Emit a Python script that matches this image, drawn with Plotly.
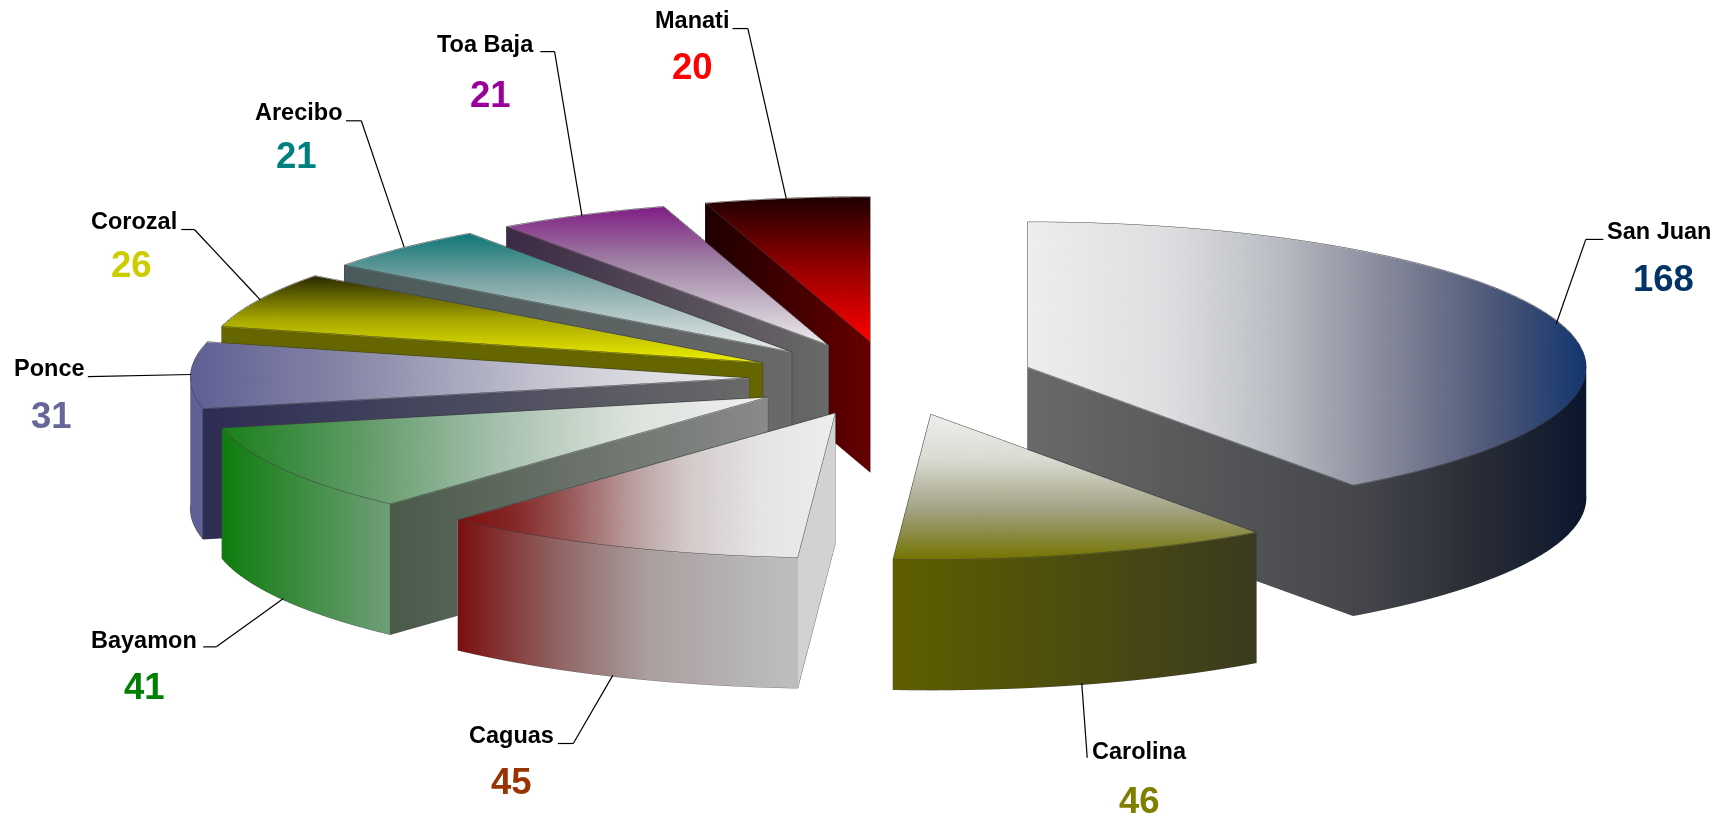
import numpy as np
import plotly.graph_objects as go

# ---- data ----
categories = ["San Juan", "Carolina", "Caguas", "Bayamon", "Ponce", "Corozal", "Arecibo", "Toa Baja", "Manati"]
values = [168, 46, 45, 41, 31, 26, 21, 21, 20]
value_colors = ["#003366", "#808000", "#993300", "#008000", "#666699", "#cccc00", "#008080", "#990099", "#ff0000"]

# gradient styles: (axis, stops) for the top face, and stops for the walls
top_axis = ["x", "y", "x", "x", "x", "y", "y", "y", "y"]
top_stops = [
    [(0, "#eeeeee"), (.25, "#dfdfe2"), (.45, "#b9bdc3"), (.65, "#858799"), (.85, "#485476"), (1, "#13366f")],
    [(0, "#eeeeee"), (.3, "#dcdcd4"), (.65, "#a3a385"), (1, "#747400")],
    [(0, "#7c1010"), (.15, "#842828"), (.3, "#9a5c5c"), (.45, "#b89a9a"), (.6, "#d2c8c8"), (.8, "#e6e4e4"), (1, "#eeeeee")],
    [(0, "#1a801a"), (.25, "#5f9a66"), (.5, "#a5c0ac"), (.75, "#dde3dd"), (1, "#f0f0f0")],
    [(0, "#5f5f95"), (.3, "#8a8aaa"), (.7, "#cfcfd9"), (1, "#eeeeee")],
    [(0, "#2a2a00"), (.5, "#a8a800"), (1, "#f0f000")],
    [(0, "#107878"), (.4, "#7ea5a5"), (1, "#ececec")],
    [(0, "#7f1f85"), (.4, "#a083a5"), (1, "#eeeeee")],
    [(0, "#200000"), (.5, "#990000"), (1, "#ff0000")],
]
outer_stops = [
    [(0, "#6a6a6a"), (.6, "#45474c"), (.8, "#2a2d36"), (1, "#0b172e")],
    [(0, "#5f5f00"), (1, "#3b3b20")],
    [(0, "#7b0f0f"), (.25, "#8f6060"), (.5, "#ab9f9f"), (.85, "#bcbcbc"), (1, "#bcbcbc")],
    [(0, "#0f7d0f"), (.3, "#6e9e76"), (1, "#6e9e76")],
    [(0, "#5f6095"), (1, "#5f6095")],
    [(0, "#666600"), (1, "#666600")],
    [(0, "#4a5a5a"), (1, "#6a6a6a")],
    [(0, "#3d2a45"), (1, "#6a6a6a")],
    [(0, "#1e0000"), (1, "#660000")],
]
side_stops = [
    [(0, "#6a6a6a"), (.6, "#45474c"), (.8, "#2a2d36"), (1, "#0b172e")],
    [(0, "#5f5f00"), (1, "#3b3b20")],
    [(0, "#d2d2d2"), (1, "#d2d2d2")],
    [(0, "#3e503e"), (.3, "#4a5a4a"), (1, "#8a8a8a")],
    [(0, "#2c2c55"), (1, "#6a6a6a")],
    [(0, "#666600"), (1, "#666600")],
    [(0, "#4a5a5a"), (1, "#6a6a6a")],
    [(0, "#3d2a45"), (1, "#6a6a6a")],
    [(0, "#1e0000"), (1, "#660000")],
]

# ---- geometry constants (pixel-like data units) ----
R = 560.0
H = 135.0
PULL = 143.0
ELEV = np.radians(15.07)
EYE_DIST = 12.0
ZOOM = 4.885
HALF = 1000.0
CX, CY, CZ = -30.7, 139.0, -68.0
LIFT = 0.6


def ramp(frac, stops):
    xs = [s[0] for s in stops]
    rgb = np.array([[int(s[1][i:i + 2], 16) for i in (1, 3, 5)] for s in stops], float)
    return np.stack([np.interp(frac, xs, rgb[:, c]) for c in range(3)], axis=-1)


def css(arr):
    return [f"rgb({int(r)},{int(g)},{int(b)})" for r, g, b in arr]


def grid_faces(nu, nv, base):
    i, j, k = [], [], []
    for a in range(nu - 1):
        for b in range(nv - 1):
            p = base + a * nv + b
            i += [p, p]
            j += [p + 1, p + nv + 1]
            k += [p + nv + 1, p + nv]
    return i, j, k


fig = go.Figure()
shares = np.array(values, float) / sum(values) * 2 * np.pi
ends = np.cumsum(shares)
starts = ends - shares
NT, NR, NZ = 70, 30, 2

for n in range(len(values)):
    a, b = starts[n], ends[n]
    mid = (a + b) / 2
    ox, oy = PULL * np.sin(mid), PULL * np.cos(mid)
    th = np.linspace(a, b, NT)
    rr = np.linspace(0, R, NR)
    T, RR = np.meshgrid(th, rr, indexing="ij")
    tx = (ox + RR * np.sin(T)).ravel()
    ty = (oy + RR * np.cos(T)).ravel()
    x0, x1, y0, y1 = tx.min(), tx.max(), ty.min(), ty.max()
    fx = lambda v: (v - x0) / (x1 - x0)
    if top_axis[n] == "x":
        col = ramp(fx(tx), top_stops[n])
    else:
        col = ramp((y1 - ty) / (y1 - y0), top_stops[n])
    X, Y, Z, C, I, J, K = [tx], [ty], [np.zeros_like(tx)], [col], [], [], []
    base = 0
    f = grid_faces(NT, NR, base)
    I += f[0]; J += f[1]; K += f[2]
    base += tx.size
    # outer wall
    zz = np.array([0.0, -H])
    T2, Z2 = np.meshgrid(th, zz, indexing="ij")
    wx = (ox + R * np.sin(T2)).ravel()
    wy = (oy + R * np.cos(T2)).ravel()
    X.append(wx); Y.append(wy); Z.append(Z2.ravel()); C.append(ramp(fx(wx), outer_stops[n]))
    f = grid_faces(NT, NZ, base)
    I += f[0]; J += f[1]; K += f[2]
    base += wx.size
    # radial walls
    for ang in (a, b):
        R2, Z3 = np.meshgrid(rr, zz, indexing="ij")
        sx = (ox + R2 * np.sin(ang)).ravel()
        sy = (oy + R2 * np.cos(ang)).ravel()
        X.append(sx); Y.append(sy); Z.append(Z3.ravel()); C.append(ramp(fx(sx), side_stops[n]))
        f = grid_faces(NR, NZ, base)
        I += f[0]; J += f[1]; K += f[2]
        base += sx.size
    fig.add_trace(go.Mesh3d(
        x=np.concatenate(X), y=np.concatenate(Y), z=np.concatenate(Z),
        i=I, j=J, k=K, vertexcolor=css(np.concatenate(C)), flatshading=True,
        lighting=dict(ambient=1, diffuse=0, specular=0, roughness=1, fresnel=0),
        hoverinfo="skip", name=categories[n], showscale=False))
    # edges
    ex, ey, ez = [], [], []
    def seg(px, py, pz):
        ex.extend(list(px) + [None]); ey.extend(list(py) + [None]); ez.extend(list(pz) + [None])
    sa, ca, sb, cb = np.sin(a), np.cos(a), np.sin(b), np.cos(b)
    outline_x = np.r_[ox, ox + R * np.sin(th), ox]
    outline_y = np.r_[oy, oy + R * np.cos(th), oy]
    seg(outline_x, outline_y, np.full_like(outline_x, LIFT))
    seg(ox + R * np.sin(th), oy + R * np.cos(th), np.full(NT, -H))
    for px, py in ((ox, oy), (ox + R * sa, oy + R * ca), (ox + R * sb, oy + R * cb)):
        seg([px, px], [py, py], [LIFT, -H])
    seg([ox, ox + R * sa], [oy, oy + R * ca], [-H, -H])
    seg([ox, ox + R * sb], [oy, oy + R * cb], [-H, -H])
    fig.add_trace(go.Scatter3d(x=ex, y=ey, z=ez, mode="lines", hoverinfo="skip",
                               line=dict(color="#3c3c3c", width=1), showlegend=False))

# ---- labels (pixel positions on the 1722x817 page) ----
SC = 1722 / 1568
label_pos = [(1511, 210), (1038, 684), (466, 669), (131, 583), (45, 335), (122, 201), (272, 102), (442, 40), (630, 18)]
value_pos = [(1515, 254), (1038, 729), (466, 712), (132, 625), (47, 378), (120, 241), (270, 142), (447, 86), (631, 61)]
leaders = [
    [(1460, 218), (1444, 218), (1417, 295)],
    [(990, 690), (985, 622)],
    [(508, 677), (522, 677), (558, 615)],
    [(185, 589), (197, 589), (258, 545)],
    [(80, 343), (174, 341)],
    [(165, 209), (177, 209), (237, 273)],
    [(315, 110), (329, 110), (368, 225)],
    [(492, 47), (505, 47), (530, 197)],
    [(667, 26), (681, 26), (716, 181)],
]
W, HT = 1722, 817
for n, name in enumerate(categories):
    lx, ly = label_pos[n]
    vx, vy = value_pos[n]
    fig.add_annotation(x=lx * SC / W, y=1 - ly * SC / HT, xref="paper", yref="paper", text=f"<b>{name}</b>",
                       xanchor="center", yanchor="middle", showarrow=False,
                       font=dict(family="Liberation Sans", size=23.5, color="#000000"))
    fig.add_annotation(x=vx * SC / W, y=1 - vy * SC / HT, xref="paper", yref="paper", text=f"<b>{values[n]}</b>",
                       xanchor="center", yanchor="middle", showarrow=False,
                       font=dict(family="Liberation Sans", size=36.5, color=value_colors[n]))
    pts = leaders[n]
    for (x1, y1), (x2, y2) in zip(pts[:-1], pts[1:]):
        fig.add_shape(type="line", xref="paper", yref="paper", x0=x1 * SC / W, y0=1 - y1 * SC / HT,
                      x1=x2 * SC / W, y1=1 - y2 * SC / HT, line=dict(color="#000000", width=1.2))

hidden = dict(visible=False, showbackground=False, showgrid=False, zeroline=False)
fig.update_layout(
    width=W, height=HT, margin=dict(l=0, r=0, t=0, b=0), paper_bgcolor="#ffffff", showlegend=False,
    scene=dict(
        domain=dict(x=[0, 1], y=[0, 1]),
        xaxis=dict(range=[CX - HALF, CX + HALF], **hidden),
        yaxis=dict(range=[CY - HALF, CY + HALF], **hidden),
        zaxis=dict(range=[CZ - HALF, CZ + HALF], **hidden),
        aspectmode="manual", aspectratio=dict(x=ZOOM, y=ZOOM, z=ZOOM),
        camera=dict(projection=dict(type="orthographic"), up=dict(x=0, y=0, z=1),
                    center=dict(x=0, y=0, z=0),
                    eye=dict(x=0, y=-EYE_DIST * np.cos(ELEV), z=EYE_DIST * np.sin(ELEV))),
    ),
)
fig.write_html("out.html", config=dict(displayModeBar=False), post_script="document.body.style.margin='0';")
